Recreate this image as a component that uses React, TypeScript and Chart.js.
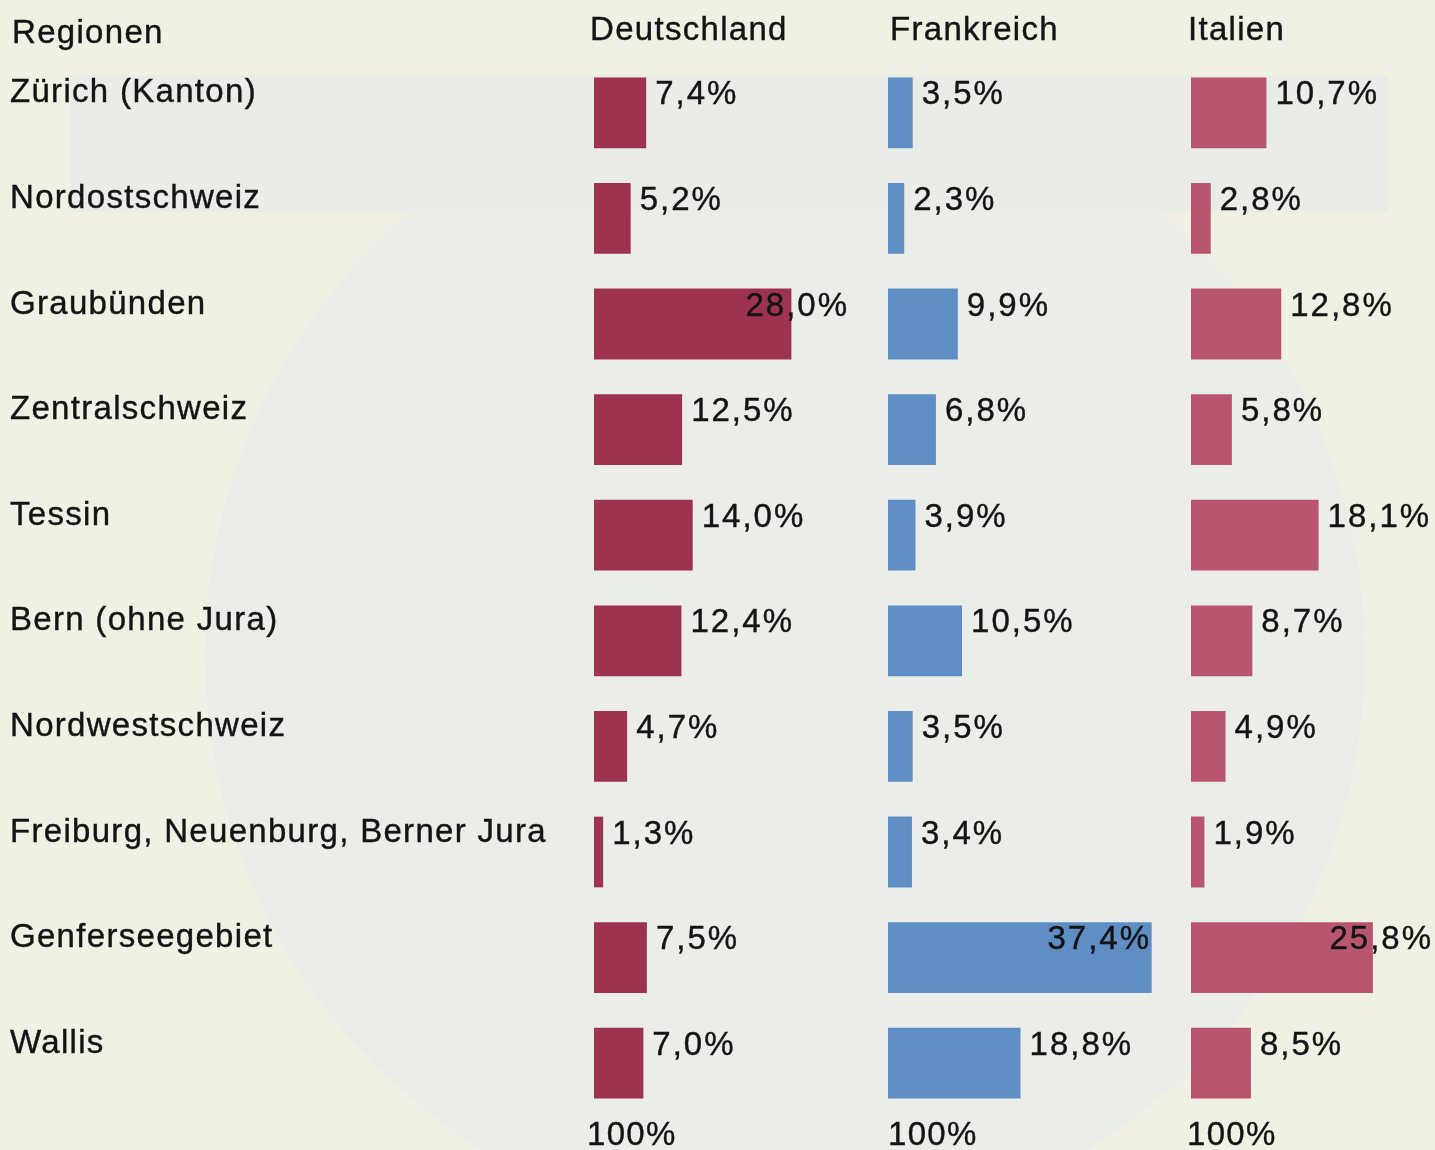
import React, { useEffect, useRef } from "react";
import { Chart, registerables } from "chart.js";

Chart.register(...registerables);

const regions = [
  "Zürich (Kanton)",
  "Nordostschweiz",
  "Graubünden",
  "Zentralschweiz",
  "Tessin",
  "Bern (ohne Jura)",
  "Nordwestschweiz",
  "Freiburg, Neuenburg, Berner Jura",
  "Genferseegebiet",
  "Wallis",
];
const countries = ["Deutschland", "Frankreich", "Italien"];
const deutschland = [7.4, 5.2, 28.0, 12.5, 14.0, 12.4, 4.7, 1.3, 7.5, 7.0];
const frankreich = [3.5, 2.3, 9.9, 6.8, 3.9, 10.5, 3.5, 3.4, 37.4, 18.8];
const italien = [10.7, 2.8, 12.8, 5.8, 18.1, 8.7, 4.9, 1.9, 25.8, 8.5];
const seriesValues = [deutschland, frankreich, italien];
const rowHeader = "Regionen";
const totalLabel = "100%";

const PX_PER_PCT = 7.05;
const FONT = "33px 'Liberation Sans', Arial, Helvetica, sans-serif";
const TEXT = "#141414";

type Panel = {
  left: number;
  width: number;
  padLeft: number;
  xMax: number;
  color: string;
  labelMaxRight: number;
  headerDx: number;
  totalDx: number;
  showRegions: boolean;
};

const panels: Panel[] = [
  { left: 0, width: 880, padLeft: 594, xMax: 40, color: "#9e3350", labelMaxRight: 849, headerDx: -4, totalDx: -7, showRegions: true },
  { left: 880, width: 300, padLeft: 8, xMax: 40, color: "#5f8ec5", labelMaxRight: 271, headerDx: 2, totalDx: 0, showRegions: false },
  { left: 1180, width: 255, padLeft: 11, xMax: 34, color: "#b8566f", labelMaxRight: 253, headerDx: -3, totalDx: -4, showRegions: false },
];

const fmt = (v: number) => v.toFixed(1).replace(".", ",") + "%";

function PanelChart({ idx }: { idx: number }) {
  const ref = useRef<HTMLCanvasElement | null>(null);
  const p = panels[idx];
  useEffect(() => {
    if (!ref.current) return;
    const areaW = p.xMax * PX_PER_PCT;
    const labelsPlugin = {
      id: "labels" + idx,
      afterDraw(chart: any) {
        const ctx = chart.ctx as CanvasRenderingContext2D;
        const area = chart.chartArea;
        ctx.save();
        ctx.font = FONT;
        (ctx as any).letterSpacing = "1.3px";
        ctx.fillStyle = TEXT;
        ctx.strokeStyle = TEXT;
        ctx.lineWidth = 0.4;
        ctx.textBaseline = "alphabetic";
        ctx.textAlign = "left";
        const put = (t: string, x: number, y: number) => {
          ctx.fillText(t, x, y);
          ctx.strokeText(t, x, y);
        };
        put(countries[idx], area.left + p.headerDx, 40);
        if (p.showRegions) put(rowHeader, 12, 43);
        put(totalLabel, area.left + p.totalDx, 1145);
        const meta = chart.getDatasetMeta(0);
        const vals = seriesValues[idx];
        meta.data.forEach((bar: any, i: number) => {
          const top = bar.y - bar.height / 2;
          if (p.showRegions) {
            (ctx as any).letterSpacing = "1.3px";
            put(regions[i], 10, top + 25);
          }
          (ctx as any).letterSpacing = "2px";
          const txt = fmt(vals[i]);
          const w = ctx.measureText(txt).width;
          let x = bar.x + 9;
          if (x + w > p.labelMaxRight) x = p.labelMaxRight - w;
          put(txt, x, top + 27);
        });
        ctx.restore();
      },
    };
    const chart = new Chart(ref.current, {
      type: "bar",
      data: {
        labels: regions,
        datasets: [
          {
            label: countries[idx],
            data: seriesValues[idx],
            backgroundColor: p.color,
            borderWidth: 0,
            barPercentage: 0.67,
            categoryPercentage: 1,
          },
        ],
      },
      options: {
        indexAxis: "y",
        animation: false,
        responsive: false,
        maintainAspectRatio: false,
        devicePixelRatio: 1,
        layout: {
          padding: {
            left: p.padLeft,
            right: p.width - p.padLeft - areaW,
            top: 60,
            bottom: 34,
          },
        },
        plugins: { legend: { display: false }, tooltip: { enabled: false }, title: { display: false } },
        scales: {
          x: { type: "linear", min: 0, max: p.xMax, display: false },
          y: { type: "category", display: false },
        },
      },
      plugins: [labelsPlugin],
    } as any);
    return () => chart.destroy();
  }, [idx]);
  return (
    <canvas
      ref={ref}
      width={p.width}
      height={1150}
      style={{ position: "absolute", left: p.left, top: 0, width: p.width, height: 1150 }}
    />
  );
}

export default function App() {
  return (
    <div
      style={{
        position: "absolute",
        left: 0,
        top: 0,
        width: 1435,
        height: 1150,
        overflow: "hidden",
        background: "#f1f0e5",
      }}
    >
      <div
        style={{
          position: "absolute",
          left: 205,
          top: 75,
          width: 1160,
          height: 1160,
          borderRadius: "50%",
          background: "#ebede8",
        }}
      />
      <div
        style={{
          position: "absolute",
          left: 70,
          top: 75,
          width: 1318,
          height: 137,
          background: "#eaece8",
        }}
      />
      <PanelChart idx={0} />
      <PanelChart idx={1} />
      <PanelChart idx={2} />
    </div>
  );
}
